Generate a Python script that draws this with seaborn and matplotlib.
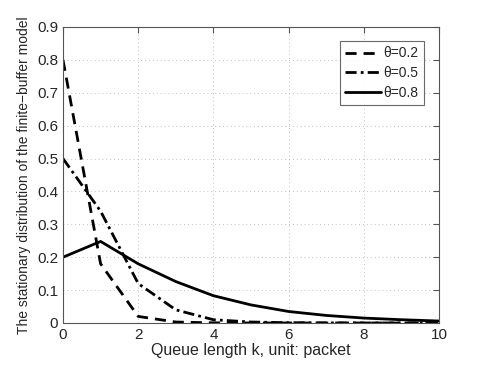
import pandas as pd
import matplotlib.pyplot as plt
import seaborn as sns

# queue length k
k = list(range(11))
theta_02 = [0.80, 0.18, 0.02, 0.003, 0.0005, 0.0001, 0, 0, 0, 0, 0]
theta_05 = [0.50, 0.34, 0.12, 0.04, 0.01, 0.003, 0.001, 0.0003, 0.0001, 0, 0]
theta_08 = [0.20, 0.248, 0.18, 0.126, 0.083, 0.055, 0.035, 0.023, 0.015, 0.01, 0.006]
labels = ["θ=0.2", "θ=0.5", "θ=0.8"]

rows = []
for lab, vals in zip(labels, [theta_02, theta_05, theta_08]):
    for x, y in zip(k, vals):
        rows.append({"k": x, "p": y, "theta": lab})
df = pd.DataFrame(rows)

sns.set_style("white")
plt.rcParams["font.family"] = ["Liberation Sans", "DejaVu Sans"]

fig = plt.figure(figsize=(4.85, 3.65), dpi=100)
ax = fig.add_axes([63 / 485, 42 / 365, 376 / 485, 296 / 365])

sns.lineplot(data=df, x="k", y="p", hue="theta", style="theta",
             palette=["black"] * 3,
             dashes={"θ=0.2": (4, 2.5), "θ=0.5": (4, 1.5, 1, 1.5), "θ=0.8": ""},
             linewidth=2, ax=ax)

ax.set_xlim(0, 10)
ax.set_ylim(0, 0.9)
ax.set_xticks(range(0, 11, 2))
ax.set_yticks([i / 10 for i in range(10)])
ax.set_yticklabels(["0"] + [f"{i / 10:.1f}" for i in range(1, 10)])
ax.grid(True, linestyle=(0, (1, 3)), color="#c0c0c0", linewidth=0.7)
ax.tick_params(direction="in", length=4, labelsize=11, top=True, right=True,
               color="#555555")
for s in ax.spines.values():
    s.set_color("#555555")
    s.set_linewidth(0.8)

ax.set_xlabel("Queue length k, unit: packet", fontsize=11.5, labelpad=1)
ax.set_ylabel("The stationary distribution of the finite\u2212buffer model", fontsize=10, labelpad=4)

leg = ax.legend(loc="upper right", bbox_to_anchor=(0.96, 0.953), fontsize=10,
                frameon=True, fancybox=False, edgecolor="#444444",
                borderaxespad=0, handlelength=2.6, handletextpad=0.15,
                borderpad=0.4, labelspacing=0.4)
leg.get_frame().set_linewidth(0.8)

fig.savefig("out.png", dpi=100)
